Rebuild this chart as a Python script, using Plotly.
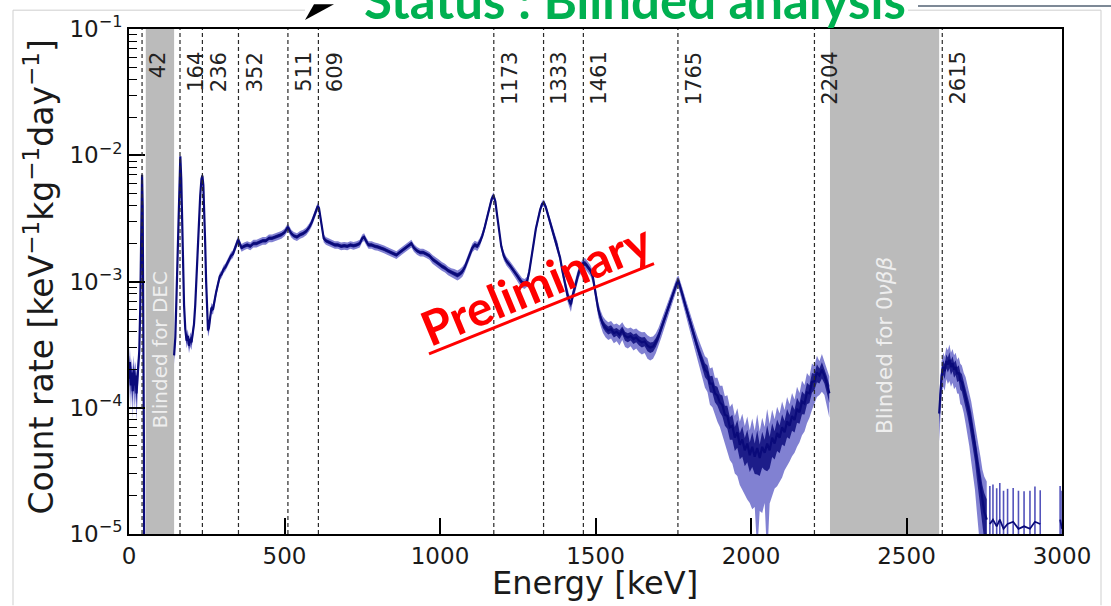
import plotly.graph_objects as go

# ---------------- data ----------------
peak_energies = [42, 164, 236, 352, 511, 609, 1173, 1333, 1461, 1765, 2204, 2615]
peak_labels = ["42", "164", "236", "352", "511", "609", "1173", "1333", "1461", "1765", "2204", "2615"]

blind_dec_keV = [54, 145]
blind_0vbb_keV = [2254, 2605]

# segment below the DEC blind window
dec_energy = [0, 3, 6, 9, 12, 15, 18, 21, 24, 27, 30, 33, 36, 38, 40, 42, 44, 46, 48, 50]
dec_rate = [1.7e-4, 2.3e-4, 1.5e-4, 1.9e-4, 1.35e-4, 2.0e-4, 1.5e-4, 1.8e-4, 1.3e-4, 1.6e-4,
            2.1e-4, 2.8e-4, 6.0e-4, 1.8e-3, 5.0e-3, 7.0e-3, 4.0e-3, 8.0e-4, 5.0e-5, 1.0e-7]
dec_err = [0.35, 0.3, 0.35, 0.3, 0.4, 0.3, 0.35, 0.3, 0.4, 0.3,
           0.25, 0.2, 0.12, 0.08, 0.05, 0.05, 0.06, 0.1, 0.5, 0.0]

# main segment between the two blind windows
main_energy = [
    145, 149, 153, 157, 160, 163, 165, 168, 171, 174, 177, 181, 185, 189, 193, 197, 201, 205, 209, 213,
    217, 221, 225, 229, 233, 236, 239, 242, 245, 248, 251, 254, 257, 261, 265, 270, 275, 280, 286, 292,
    298, 304, 310, 316, 322, 328, 334, 340, 346, 351, 356, 362, 370, 380, 390, 400, 410, 420, 430, 440,
    450, 460, 470, 480, 490, 500, 507, 511, 516, 522, 530, 540, 550, 560, 570, 580, 588, 596, 602, 607,
    611, 615, 620, 626, 633, 642, 652, 662, 672, 682, 692, 702, 712, 722, 732, 742, 750, 756, 762, 770,
    780, 790, 800, 810, 820, 830, 840, 850, 860, 870, 880, 890, 900, 908, 916, 926, 936, 946, 956, 966,
    976, 986, 996, 1006, 1016, 1026, 1036, 1046, 1056, 1064, 1072, 1080, 1088, 1096, 1104, 1112, 1120, 1128, 1136, 1144,
    1152, 1160, 1166, 1172, 1178, 1184, 1190, 1197, 1205, 1214, 1224, 1234, 1244, 1254, 1264, 1272, 1280, 1287, 1294, 1301,
    1308, 1315, 1322, 1328, 1334, 1340, 1347, 1354, 1362, 1370, 1378, 1386, 1394, 1402, 1410, 1416, 1421, 1427, 1433, 1440,
    1447, 1454, 1461, 1468, 1476, 1484, 1491, 1497, 1503, 1509, 1516, 1524, 1532, 1541, 1550, 1559, 1568, 1577, 1586, 1595,
    1604, 1613, 1622, 1631, 1640, 1649, 1658, 1667, 1676, 1685, 1694, 1703, 1712, 1721, 1730, 1739, 1748, 1756, 1762, 1767,
    1773, 1780, 1788, 1796, 1804, 1812, 1820, 1828, 1836, 1844, 1852, 1860, 1868, 1876, 1884, 1892, 1900, 1908, 1916, 1924,
    1932, 1940, 1948, 1956, 1964, 1972, 1980, 1988, 1996, 2004, 2012, 2020, 2028, 2036, 2044, 2052, 2060, 2068, 2076, 2084,
    2092, 2100, 2108, 2116, 2124, 2132, 2140, 2148, 2156, 2164, 2172, 2180, 2188, 2196, 2204, 2212, 2220, 2228, 2236, 2244,
    2252,
]
main_rate = [
    2.6e-4, 3.6e-4, 8.0e-4, 2.2e-3, 5.0e-3, 9.0e-3, 9.8e-3, 6.5e-3, 3.0e-3, 1.3e-3, 6.5e-4, 4.2e-4, 3.4e-4, 3.7e-4, 3.1e-4, 3.5e-4, 3.3e-4, 3.9e-4, 4.6e-4, 6.5e-4,
    1.1e-3, 1.9e-3, 3.2e-3, 4.8e-3, 6.5e-3, 6.9e-3, 5.8e-3, 3.8e-3, 2.0e-3, 1.0e-3, 5.6e-4, 4.1e-4, 4.3e-4, 5.2e-4, 6.2e-4, 6.0e-4, 7.3e-4, 8.2e-4, 9.5e-4, 1.1e-3,
    1.15e-3, 1.25e-3, 1.3e-3, 1.4e-3, 1.5e-3, 1.6e-3, 1.65e-3, 1.8e-3, 1.95e-3, 2.15e-3, 2.0e-3, 1.85e-3, 1.9e-3, 1.95e-3, 1.9e-3, 2.0e-3, 2.0e-3, 2.05e-3, 2.1e-3, 2.1e-3,
    2.2e-3, 2.2e-3, 2.25e-3, 2.3e-3, 2.35e-3, 2.45e-3, 2.6e-3, 2.7e-3, 2.55e-3, 2.4e-3, 2.3e-3, 2.25e-3, 2.35e-3, 2.4e-3, 2.5e-3, 2.7e-3, 2.95e-3, 3.3e-3, 3.7e-3, 3.95e-3,
    3.8e-3, 3.2e-3, 2.6e-3, 2.2e-3, 2.1e-3, 2.05e-3, 2.0e-3, 1.95e-3, 1.95e-3, 1.9e-3, 1.92e-3, 1.9e-3, 1.95e-3, 1.92e-3, 1.95e-3, 2.0e-3, 2.2e-3, 2.25e-3, 2.1e-3, 1.95e-3,
    1.95e-3, 1.9e-3, 1.88e-3, 1.85e-3, 1.8e-3, 1.75e-3, 1.7e-3, 1.65e-3, 1.62e-3, 1.7e-3, 1.78e-3, 1.85e-3, 1.95e-3, 2.0e-3, 1.85e-3, 1.75e-3, 1.7e-3, 1.7e-3, 1.65e-3, 1.6e-3,
    1.5e-3, 1.45e-3, 1.38e-3, 1.32e-3, 1.28e-3, 1.22e-3, 1.18e-3, 1.15e-3, 1.12e-3, 1.15e-3, 1.2e-3, 1.3e-3, 1.45e-3, 1.65e-3, 1.85e-3, 1.95e-3, 1.9e-3, 2.05e-3, 2.3e-3, 2.7e-3,
    3.3e-3, 4.0e-3, 4.5e-3, 4.8e-3, 4.3e-3, 3.3e-3, 2.5e-3, 1.9e-3, 1.6e-3, 1.45e-3, 1.35e-3, 1.25e-3, 1.15e-3, 1.05e-3, 9.8e-4, 9.6e-4, 1.0e-3, 1.2e-3, 1.5e-3, 2.0e-3,
    2.6e-3, 3.2e-3, 3.7e-3, 4.1e-3, 4.2e-3, 3.9e-3, 3.4e-3, 2.9e-3, 2.5e-3, 2.2e-3, 1.9e-3, 1.55e-3, 1.2e-3, 9.5e-4, 7.8e-4, 7.0e-4, 6.6e-4, 7.8e-4, 9.0e-4, 1.05e-3,
    1.2e-3, 1.3e-3, 1.4e-3, 1.38e-3, 1.3e-3, 1.22e-3, 1.1e-3, 9.0e-4, 7.2e-4, 6.0e-4, 5.2e-4, 4.6e-4, 4.3e-4, 4.1e-4, 4.2e-4, 3.9e-4, 4.0e-4, 3.8e-4, 4.1e-4, 3.7e-4,
    3.6e-4, 3.7e-4, 3.5e-4, 3.6e-4, 3.4e-4, 3.3e-4, 3.35e-4, 3.1e-4, 3.0e-4, 3.05e-4, 3.3e-4, 3.7e-4, 4.3e-4, 5.0e-4, 5.8e-4, 6.8e-4, 7.8e-4, 8.8e-4, 9.8e-4, 1.0e-3,
    9.0e-4, 7.8e-4, 6.6e-4, 5.6e-4, 4.8e-4, 4.1e-4, 3.5e-4, 3.0e-4, 2.6e-4, 2.3e-4, 2.0e-4, 1.9e-4, 1.55e-4, 1.55e-4, 1.3e-4, 1.25e-4, 1.1e-4, 1.05e-4, 8.8e-5, 8.6e-5,
    7.0e-5, 7.2e-5, 5.8e-5, 6.4e-5, 5.1e-5, 5.6e-5, 4.6e-5, 5.2e-5, 4.2e-5, 4.9e-5, 4.1e-5, 4.8e-5, 4.0e-5, 4.9e-5, 4.4e-5, 5.2e-5, 4.6e-5, 5.8e-5, 5.2e-5, 6.3e-5,
    5.8e-5, 7.0e-5, 6.4e-5, 7.8e-5, 7.2e-5, 8.6e-5, 8.0e-5, 9.8e-5, 9.2e-5, 1.12e-4, 1.08e-4, 1.32e-4, 1.3e-4, 1.6e-4, 1.62e-4, 1.9e-4, 1.8e-4, 2.0e-4, 1.8e-4, 1.55e-4,
    1.3e-4,
]
main_err = [
    0.15, 0.12, 0.08, 0.06, 0.05, 0.05, 0.05, 0.05, 0.06, 0.07, 0.09, 0.11, 0.13, 0.13, 0.13, 0.13, 0.13, 0.11, 0.11, 0.09,
    0.07, 0.06, 0.06, 0.05, 0.05, 0.05, 0.05, 0.06, 0.06, 0.07, 0.09, 0.11, 0.11, 0.1, 0.09, 0.09, 0.08, 0.08, 0.07, 0.07,
    0.07, 0.07, 0.07, 0.07, 0.07, 0.07, 0.07, 0.07, 0.07, 0.07, 0.07, 0.07, 0.07, 0.07, 0.07, 0.07, 0.07, 0.07, 0.07, 0.07,
    0.07, 0.07, 0.07, 0.07, 0.07, 0.07, 0.07, 0.07, 0.07, 0.07, 0.07, 0.07, 0.07, 0.07, 0.07, 0.07, 0.07, 0.07, 0.07, 0.07,
    0.07, 0.07, 0.07, 0.07, 0.07, 0.07, 0.07, 0.07, 0.07, 0.07, 0.07, 0.07, 0.07, 0.07, 0.07, 0.07, 0.07, 0.07, 0.07, 0.07,
    0.07, 0.07, 0.07, 0.07, 0.07, 0.07, 0.07, 0.07, 0.07, 0.07, 0.07, 0.07, 0.07, 0.07, 0.07, 0.07, 0.07, 0.07, 0.07, 0.07,
    0.08, 0.08, 0.08, 0.08, 0.08, 0.08, 0.08, 0.09, 0.09, 0.09, 0.09, 0.08, 0.08, 0.08, 0.08, 0.08, 0.08, 0.08, 0.07, 0.07,
    0.07, 0.06, 0.06, 0.06, 0.06, 0.06, 0.07, 0.07, 0.08, 0.08, 0.08, 0.08, 0.09, 0.09, 0.09, 0.09, 0.09, 0.08, 0.08, 0.07,
    0.07, 0.06, 0.06, 0.06, 0.06, 0.06, 0.06, 0.07, 0.07, 0.07, 0.08, 0.08, 0.09, 0.1, 0.11, 0.11, 0.13, 0.11, 0.11, 0.1,
    0.1, 0.1, 0.1, 0.1, 0.1, 0.1, 0.11, 0.11, 0.13, 0.13, 0.14, 0.15, 0.16, 0.16, 0.16, 0.17, 0.16, 0.18, 0.16, 0.18,
    0.18, 0.17, 0.19, 0.18, 0.19, 0.2, 0.19, 0.21, 0.21, 0.2, 0.18, 0.17, 0.16, 0.15, 0.14, 0.13, 0.13, 0.12, 0.11, 0.11,
    0.12, 0.13, 0.14, 0.15, 0.17, 0.18, 0.2, 0.22, 0.24, 0.26, 0.28, 0.3, 0.32, 0.35, 0.33, 0.38, 0.36, 0.42, 0.4, 0.46,
    0.45, 0.5, 0.48, 0.55, 0.52, 0.6, 0.56, 0.64, 0.58, 0.68, 0.6, 0.85, 0.62, 0.7, 0.6, 0.88, 0.62, 0.66, 0.56, 0.62,
    0.55, 0.6, 0.5, 0.56, 0.48, 0.52, 0.45, 0.5, 0.42, 0.46, 0.4, 0.43, 0.36, 0.4, 0.33, 0.36, 0.3, 0.33, 0.3, 0.33,
    0.36,
]

# segment above the 0vbb blind window
tl_energy = [2605, 2609, 2613, 2618, 2623, 2628, 2633, 2638, 2643, 2648, 2653, 2658, 2663, 2668, 2673, 2678, 2684, 2690,
             2696, 2702, 2708, 2714, 2720, 2726, 2732, 2738, 2744, 2750, 2758]
tl_rate = [9.0e-5, 1.4e-4, 1.8e-4, 2.1e-4, 1.95e-4, 2.35e-4, 2.2e-4, 2.4e-4, 2.1e-4, 2.25e-4, 2.0e-4, 2.1e-4, 1.85e-4,
           1.9e-4, 1.65e-4, 1.6e-4, 1.4e-4, 1.25e-4, 1.05e-4, 9.0e-5, 7.5e-5, 6.0e-5, 5.0e-5, 3.8e-5, 3.0e-5, 2.4e-5,
           1.8e-5, 1.5e-5, 1.3e-5]
tl_err = [0.4, 0.3, 0.3, 0.3, 0.3, 0.28, 0.3, 0.32, 0.3, 0.3, 0.3, 0.3, 0.3, 0.32, 0.35, 0.35, 0.35, 0.4,
          0.4, 0.45, 0.5, 0.5, 0.55, 0.6, 0.65, 0.7, 0.8, 0.9, 1.0]

# sparse high-energy tail (single counts)
tail_energy = [2768, 2778, 2790, 2800, 2812, 2825, 2843, 2860, 2878, 2897, 2913, 2930, 2950, 2994, 3000]
tail_rate = [1.2e-5, 1.3e-5, 1.15e-5, 1.3e-5, 1.1e-5, 1.2e-5, 1.25e-5, 1.1e-5, 1.15e-5, 1.1e-5, 1.25e-5, 1.2e-5,
             None, 1.3e-5, 1.1e-5]
tail_err = [1.0, 0.9, 1.0, 0.95, 1.0, 0.9, 0.85, 1.0, 0.9, 1.0, 0.9, 0.85, None, 0.85, 1.0]

x_ticks = [0, 500, 1000, 1500, 2000, 2500, 3000]
y_ticks = [1e-5, 1e-4, 1e-3, 1e-2, 1e-1]
y_tick_text = ["10<sup>−5</sup>", "10<sup>−4</sup>", "10<sup>−3</sup>", "10<sup>−2</sup>", "10<sup>−1</sup>"]

# ---------------- layout helpers ----------------
PL, PR, PT, PB = 129, 1062, 24, 534
W, H = 1111, 606


def px(x):
    return (x - PL) / (PR - PL)


def py(y):
    return (PB - y) / (PB - PT)


LINE_COL = "#0a0a7a"
OUTER_FILL = "rgba(45,45,180,0.6)"
INNER_FILL = "rgba(12,12,125,0.85)"

fig = go.Figure()


def add_band(E, R, Er, scale, color):
    hi = [r * (1 + e * scale) for r, e in zip(R, Er)]
    lo = [max(r * (1 - e * scale), 1e-8) for r, e in zip(R, Er)]
    fig.add_trace(go.Scatter(x=E, y=hi, mode="lines", line=dict(width=0, color=color),
                             hoverinfo="skip", showlegend=False))
    fig.add_trace(go.Scatter(x=E, y=lo, mode="lines", line=dict(width=0, color=color),
                             fill="tonexty", fillcolor=color, hoverinfo="skip", showlegend=False))


def add_segment(E, R, Er):
    add_band(E, R, Er, 1.0, OUTER_FILL)
    add_band(E, R, Er, 0.45, INNER_FILL)
    fig.add_trace(go.Scatter(x=E, y=R, mode="lines", line=dict(color=LINE_COL, width=2.2),
                             showlegend=False))


add_segment(dec_energy, dec_rate, dec_err)
add_segment(main_energy, main_rate, main_err)
add_segment(tl_energy, tl_rate, tl_err)

tail_up = [None if r is None else r * e for r, e in zip(tail_rate, tail_err)]
tail_dn = [None if r is None else (r - 1e-8 if e >= 1 else r * e) for r, e in zip(tail_rate, tail_err)]
fig.add_trace(go.Scatter(
    x=tail_energy, y=tail_rate, mode="lines", line=dict(color=LINE_COL, width=1.8),
    error_y=dict(type="data", symmetric=False, array=tail_up, arrayminus=tail_dn,
                 color="rgba(40,40,170,0.8)", thickness=1.6, width=0),
    showlegend=False))

shapes = []
# blind windows
for lo_e, hi_e in (blind_dec_keV, blind_0vbb_keV):
    shapes.append(dict(type="rect", xref="x", yref="paper", x0=lo_e, x1=hi_e, y0=0, y1=1,
                       fillcolor="#bbbbbb", line=dict(width=0), layer="below"))
# gamma line markers
for e in peak_energies:
    shapes.append(dict(type="line", xref="x", yref="paper", x0=e, x1=e, y0=0, y1=1,
                       line=dict(color="#2a2a2a", width=1.2, dash="4px,3px"), layer="above"))

# slide frame lines
frame = "#cfcfcf"
shapes += [
    dict(type="line", xref="paper", yref="paper", x0=px(13), x1=px(13), y0=py(5), y1=py(606), line=dict(color=frame, width=1)),
    dict(type="line", xref="paper", yref="paper", x0=px(1101), x1=px(1101), y0=py(5), y1=py(606), line=dict(color=frame, width=1)),
    dict(type="line", xref="paper", yref="paper", x0=px(13), x1=px(305), y0=py(5), y1=py(5), line=dict(color=frame, width=1)),
    dict(type="line", xref="paper", yref="paper", x0=px(908), x1=px(1101), y0=py(5), y1=py(5), line=dict(color=frame, width=1)),
    dict(type="line", xref="paper", yref="paper", x0=px(918), x1=px(1111), y0=py(0.8), y1=py(0.8), line=dict(color="#7d8996", width=2)),
]
# black arrow head pointing at the plot
shapes.append(dict(type="path", xref="paper", yref="paper",
                   path=f"M {px(305)},{py(15)} L {px(314)},{py(-1)} L {px(334)},{py(-1)} Z",
                   fillcolor="black", line=dict(width=0)))
# underline of "Preliminary"
shapes.append(dict(type="line", xref="paper", yref="paper", x0=px(429), y0=py(352), x1=px(654), y1=py(261),
                   line=dict(color="#ff0000", width=3)))

annotations = []
for e, lab in zip(peak_energies, peak_labels):
    annotations.append(dict(x=e, y=py(45), xref="x", yref="paper", text=lab, showarrow=False,
                            textangle=-90, xanchor="left", yanchor="top", xshift=2,
                            font=dict(family="DejaVu Sans", size=21, color="#222222")))

annotations.append(dict(x=sum(blind_dec_keV) / 2, y=py(429), xref="x", yref="paper", text="Blinded for DEC",
                        showarrow=False, textangle=-90, xanchor="center", yanchor="bottom",
                        font=dict(family="DejaVu Sans", size=20, color="#eeeeee")))
annotations.append(dict(x=sum(blind_0vbb_keV) / 2, y=py(435), xref="x", yref="paper",
                        text="Blinded for 0<i>νββ</i>",
                        showarrow=False, textangle=-90, xanchor="center", yanchor="bottom",
                        font=dict(family="DejaVu Sans", size=21.5, color="#eeeeee")))

# axis titles
annotations.append(dict(x=px(595), y=py(583), xref="paper", yref="paper", text="Energy [keV]",
                        showarrow=False, xanchor="center", yanchor="middle",
                        font=dict(family="DejaVu Sans", size=32, color="#1a1a1a")))
annotations.append(dict(x=px(40), y=py(275), xref="paper", yref="paper",
                        text="Count rate [keV<sup>−1</sup>kg<sup>−1</sup>day<sup>−1</sup>]",
                        showarrow=False, textangle=-90, xanchor="center", yanchor="middle",
                        font=dict(family="DejaVu Sans", size=33, color="#1a1a1a")))

# Preliminary stamp
annotations.append(dict(x=px(536), y=py(281), xref="paper", yref="paper", text="<b>Preliminary</b>",
                        showarrow=False, textangle=-22.5, xanchor="center", yanchor="middle",
                        font=dict(family="Lato", size=48, color="#ff0000")))

# slide title, mostly cut off by the top of the page
annotations.append(dict(x=px(362), y=py(-6), xref="paper", yref="paper",
                        text="<b>Status : Blinded analysis</b>",
                        showarrow=False, xanchor="left", yanchor="middle",
                        font=dict(family="Lato", size=51, color="#00b050")))

minor_vals = [m * 10.0 ** k for k in range(-5, -1) for m in range(2, 10)]

fig.update_layout(
    width=W, height=H,
    margin=dict(l=PL, r=W - PR, t=PT, b=H - PB),
    paper_bgcolor="white", plot_bgcolor="white",
    showlegend=False,
    shapes=shapes,
    annotations=annotations,
    xaxis=dict(range=[0, 3000], tickvals=x_ticks, ticktext=[str(v) for v in x_ticks],
               ticks="inside", ticklen=16, tickwidth=1.5, tickcolor="black",
               showline=True, linewidth=2, linecolor="black", mirror=True,
               showgrid=False, zeroline=False,
               tickfont=dict(family="DejaVu Sans", size=23, color="#1a1a1a")),
    yaxis=dict(type="log", range=[-5, -1], tickvals=y_ticks, ticktext=y_tick_text,
               ticks="inside", ticklen=16, tickwidth=1.5, tickcolor="black",
               showline=True, linewidth=2, linecolor="black", mirror=True,
               showgrid=False, zeroline=False,
               minor=dict(tickmode="array", tickvals=minor_vals, ticks="inside", ticklen=8,
                          tickwidth=1.2, tickcolor="black", showgrid=False),
               tickfont=dict(family="DejaVu Sans", size=23, color="#1a1a1a")),
)

fig.write_html("out.html")
